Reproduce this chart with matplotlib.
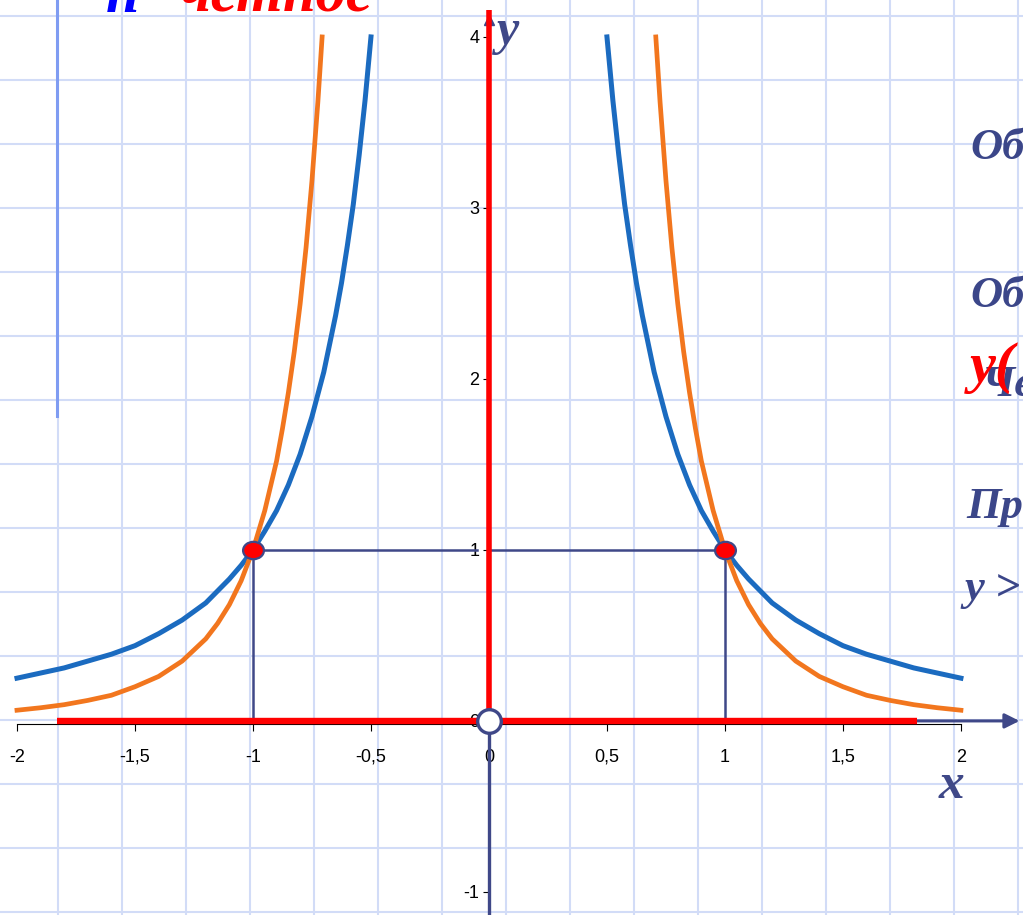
import matplotlib
matplotlib.use("Agg")
import matplotlib.pyplot as plt
import numpy as np
from matplotlib.path import Path
from matplotlib.transforms import Affine2D

# values (right branch, left branch is the mirror)
x_blue = [0.5, 0.525, 0.55, 0.575, 0.6, 0.625, 0.65, 0.7, 0.75, 0.8, 0.85, 0.9, 0.95, 1.0,
          1.05, 1.1, 1.15, 1.2, 1.3, 1.4, 1.5, 1.6, 1.7, 1.8, 1.9, 2.0]
y_blue = [4.0, 3.63, 3.31, 3.02, 2.78, 2.56, 2.37, 2.04, 1.78, 1.56, 1.38, 1.23, 1.11, 1.0,
          0.91, 0.83, 0.76, 0.69, 0.59, 0.51, 0.44, 0.39, 0.35, 0.31, 0.28, 0.25]

x_orange = [0.707, 0.725, 0.75, 0.775, 0.8, 0.825, 0.85, 0.875, 0.9, 0.95, 1.0, 1.05, 1.1,
            1.15, 1.2, 1.3, 1.4, 1.5, 1.6, 1.7, 1.8, 1.9, 2.0]
y_orange = [4.0, 3.62, 3.16, 2.77, 2.44, 2.16, 1.92, 1.71, 1.52, 1.23, 1.0, 0.82, 0.68,
            0.57, 0.48, 0.35, 0.26, 0.20, 0.15, 0.12, 0.095, 0.077, 0.0625]

x_ticks = [-2, -1.5, -1, -0.5, 0, 0.5, 1, 1.5, 2]
x_tick_labels = ["-2", "-1,5", "-1", "-0,5", "0", "0,5", "1", "1,5", "2"]
y_ticks = [-1, 0, 1, 2, 3, 4]
y_tick_labels = ["-1", "0", "1", "2", "3", "4"]

pts_x = [-1, 1]
pts_y = [1, 1]

navy = "#3f4888"
red = "#ff0000"
blue = "#1b6bc0"
orange = "#f2761e"
grid_c = "#d2dcf7"
serif = ["Liberation Serif", "DejaVu Serif"]
narrow = ["Liberation Sans Narrow", "Liberation Sans", "DejaVu Sans"]

fig = plt.figure(figsize=(10.23, 9.15), dpi=100)

# pixel layer for the paper grid and the cut off slide text
pax = fig.add_axes([0, 0, 1, 1], zorder=0)
pax.set_xlim(0, 1023)
pax.set_ylim(915, 0)
pax.axis("off")
for gx in range(-6, 1024, 64):
    pax.axvline(gx, color=grid_c, lw=1.5)
for gy in range(16, 916, 64):
    pax.axhline(gy, color=grid_c, lw=1.5)
pax.plot([57, 57], [0, 416], color="#7f9cf2", lw=2.2)

ax = fig.add_axes([0, 0, 1, 1], zorder=1)
ax.patch.set_alpha(0)
ax.set_xlim(-2.072, 2.263)
ax.set_ylim(-1.135, 4.216)

# axes with ticks
for s in ["top", "right"]:
    ax.spines[s].set_visible(False)
ax.spines["bottom"].set_position(("data", -0.018))
ax.spines["bottom"].set_bounds(-2, 2)
ax.spines["bottom"].set_color("black")
ax.spines["bottom"].set_linewidth(0.8)
ax.spines["left"].set_position(("data", 0))
ax.spines["left"].set_visible(False)
ax.set_xticks(x_ticks)
ax.set_xticklabels(x_tick_labels, family=narrow, fontsize=13)
ax.set_yticks(y_ticks)
ax.set_yticklabels(y_tick_labels, family=narrow, fontsize=13)
ax.tick_params(axis="x", direction="out", length=5, width=0.8, pad=13)
ax.tick_params(axis="y", direction="out", length=4, width=0.8, pad=3)

# navy x axis with arrow, navy stem below the origin
ax.annotate("", xy=(2.26, 0), xytext=(1.7, 0),
            arrowprops=dict(arrowstyle="-|>", color=navy, lw=2.2, mutation_scale=22), zorder=3)
ax.plot([0, 0], [0, -1.135], color=navy, lw=2.4, zorder=3)
ax.plot([0], [4.1], marker="^", color=navy, ms=7, zorder=3)

# helper lines
ax.plot([pts_x[0], -0.05], [1, 1], color=navy, lw=1.8, zorder=4)
ax.plot([0, pts_x[1]], [1, 1], color=navy, lw=1.8, zorder=4)
ax.plot([pts_x[0], pts_x[0]], [0, 1], color=navy, lw=1.8, zorder=4)
ax.plot([pts_x[1], pts_x[1]], [0, 1], color=navy, lw=1.8, zorder=4)

# curves
xb = np.array(x_blue)
xo = np.array(x_orange)
ax.plot(-xb, y_blue, color=blue, lw=3.6, zorder=5)
ax.plot(xb, y_blue, color=blue, lw=3.6, zorder=5)
ax.plot(-xo, y_orange, color=orange, lw=3.4, zorder=5)
ax.plot(xo, y_orange, color=orange, lw=3.4, zorder=5)

# red axes
ax.plot([-1.83, 1.814], [0, 0], color=red, lw=4.6, solid_capstyle="butt", zorder=6)
ax.plot([0, 0], [0, 4.158], color=red, lw=4.0, solid_capstyle="butt", zorder=6)

# points
ell = Path.unit_circle().transformed(Affine2D().scale(1.2, 1.0))
ax.plot(pts_x, pts_y, ls="none", marker=ell, ms=15, mfc=red, mec=navy, mew=1.6, zorder=8)
ax.plot([0], [0], ls="none", marker="o", ms=17, mfc="white", mec=navy, mew=2.4, zorder=8)

# axis names
pax.text(952, 798, "x", ha="center", va="baseline",
         family=serif, style="italic", weight="bold", fontsize=37, color=navy, zorder=9)
pax.text(497, 44, "y", ha="left", va="baseline",
         family=serif, style="italic", weight="bold", fontsize=36, color=navy)

# cut-off slide text
pax.text(106, 12, "n", ha="left", va="baseline", family=serif, style="italic",
         weight="bold", fontsize=43, color="#0000ff")
pax.text(180, 12, "четное", ha="left", va="baseline", family=serif, style="italic",
         weight="bold", fontsize=43, color=red)
side = [(970, 159, "Об"), (970, 307, "Об"), (982, 396, "Че"), (966, 518, "Пр"), (964, 600, "y >")]
for tx, ty, s in side:
    pax.text(tx, ty, s, ha="left", va="baseline", family=serif, style="italic",
             weight="bold", fontsize=32, color="#3b4689")
pax.text(970, 382, "y(", ha="left", va="baseline", family=serif, style="italic",
         weight="bold", fontsize=42, color=red)

fig.savefig("out.png", dpi=100)
